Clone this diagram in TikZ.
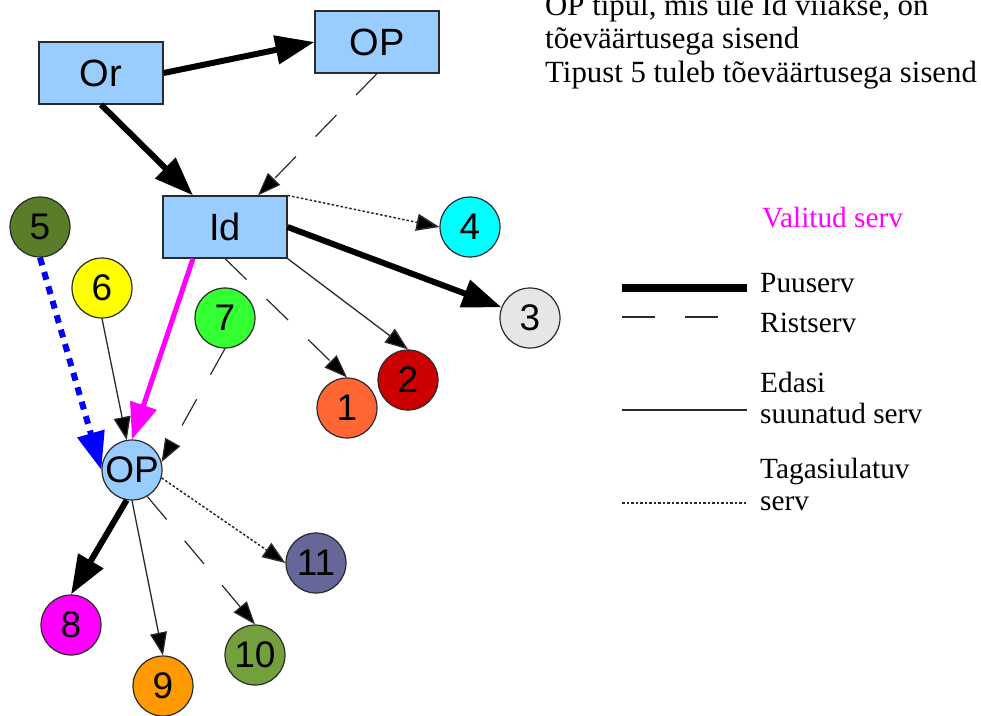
\documentclass[tikz,border=0pt]{standalone}
\usepackage{fontspec}
\setmainfont{Liberation Serif}
\newfontfamily\labelfont{Liberation Sans}
\usetikzlibrary{arrows.meta}

\definecolor{boxblue}{HTML}{99CCFF}
\definecolor{edgegray}{HTML}{2A2A2A}
\definecolor{cfive}{HTML}{5A7D2A}
\definecolor{csix}{HTML}{FFFF00}
\definecolor{cseven}{HTML}{33FF33}
\definecolor{cfour}{HTML}{00FFFF}
\definecolor{cthree}{HTML}{E6E6E6}
\definecolor{ctwo}{HTML}{CC0000}
\definecolor{cone}{HTML}{FF6633}
\definecolor{ceight}{HTML}{FF00FF}
\definecolor{cnine}{HTML}{FF9900}
\definecolor{cten}{HTML}{739F3D}
\definecolor{celeven}{HTML}{666699}

\tikzset{
  x=1pt, y=-1pt,
  vbox/.style={draw=edgegray, line width=1.2pt, fill=boxblue, minimum width=124pt,
    minimum height=62pt, inner sep=0pt, font=\labelfont\fontsize{38}{38}\selectfont},
  vcirc/.style={circle, draw=edgegray, line width=1.2pt, minimum size=60pt,
    inner sep=0pt, font=\labelfont\fontsize{37}{37}\selectfont},
  note/.style={anchor=base west, inner sep=0pt, font=\fontsize{29.3}{33}\selectfont},
  topnote/.style={anchor=base west, inner sep=0pt, font=\fontsize{30.8}{33}\selectfont},
  bighead/.style={-{Triangle[length=39pt,width=28pt]}},
  smallhead/.style={-{Triangle[length=23pt,width=17pt,fill=black]}},
  treeedge/.style={bighead, line width=6pt, black},
  crossedge/.style={smallhead, line width=1.2pt, edgegray, dash pattern=on 30pt off 28pt},
  forwardedge/.style={smallhead, line width=1.3pt, edgegray},
  backedge/.style={smallhead, line width=1.5pt, edgegray, dash pattern=on 2.5pt off 2pt},
  chosenedge/.style={-{Triangle[length=36pt,width=27pt]}, line width=5pt, ceight},
  valueedge/.style={-{Triangle[length=38pt,width=27pt]}, line width=6pt, blue,
    dash pattern=on 8pt off 7pt},
}

\begin{document}
\begin{tikzpicture}
\useasboundingbox (0,0) rectangle (981,715);

% vertices
\node[vbox] (Or)  at (101,73)  {Or};
\node[vbox] (OPt) at (377,42)  {OP};
\node[vbox] (Id)  at (225,227) {Id};

\node[vcirc, fill=cfive]   (n5)  at (40,227)  {5};
\node[vcirc, fill=csix]    (n6)  at (102,288) {6};
\node[vcirc, fill=cseven]  (n7)  at (225,318) {7};
\node[vcirc, fill=cfour]   (n4)  at (470,227) {4};
\node[vcirc, fill=cthree]  (n3)  at (530,318) {3};
\node[vcirc, fill=ctwo]    (n2)  at (408,380) {2};
\node[vcirc, fill=cone]    (n1)  at (347,408) {1};
\node[vcirc, fill=boxblue] (OPc) at (132,470) {OP};
\node[vcirc, fill=ceight]  (n8)  at (71,625)  {8};
\node[vcirc, fill=cnine]   (n9)  at (163,686) {9};
\node[vcirc, fill=cten]    (n10) at (255,655) {10};
\node[vcirc, fill=celeven] (n11) at (316,563) {11};

% edges
\draw[treeedge]    (Or.east) -- (OPt.west);
\draw[treeedge]    (Or.south) -- ([xshift=-32pt]Id.north);
\draw[crossedge]   (OPt.south) -- ([xshift=33pt]Id.north);
\draw[backedge]    (Id.north east) -- (n4.west);
\draw[treeedge]    (Id.east) -- (n3);
\draw[forwardedge] (Id.south east) -- (n2.north);
\draw[crossedge]   (Id.south) -- (n1.north);
\draw[chosenedge]  ([xshift=-32pt]Id.south) -- (OPc.north);
\draw[valueedge]   (n5.south) -- (OPc.west);
\draw[forwardedge] (n6.south) -- (OPc.100);
\draw[crossedge]   (n7.south) -- (OPc.15);
\draw[treeedge]    (OPc.-100) -- (n8.north);
\draw[forwardedge] (OPc.south) -- (n9.north);
\draw[crossedge]   (OPc.-60) -- (n10.north);
\draw[backedge]    (OPc.-15) -- (n11.west);

% explanation
\node[topnote] (t1) at (545,15) {OP tipul, mis üle Id viiakse, on};
\node[topnote] (t2) at (545,48) {tõeväärtusega sisend};
\node[topnote] (t3) at (545,82) {Tipust 5 tuleb tõeväärtusega sisend};

% legend
\node[note, text=ceight] (lv) at (762,227) {Valitud serv};

\coordinate (a1) at (622,288); \coordinate (b1) at (747,288);
\draw[line width=8pt, black] (a1) -- (b1);
\node[note] (lp) at (760,292) {Puuserv};

\coordinate (a2) at (622,317); \coordinate (b2) at (747,317);
\draw[line width=1.2pt, edgegray, dash pattern=on 33pt off 30pt] (a2) -- (b2);
\node[note] (lr) at (760,332) {Ristserv};

\coordinate (a3) at (622,410); \coordinate (b3) at (747,410);
\draw[line width=1.5pt, edgegray] (a3) -- (b3);
\node[note] (le1) at (760,392) {Edasi};
\node[note] (le2) at (760,423) {suunatud serv};

\coordinate (a4) at (622,503); \coordinate (b4) at (747,503);
\draw[line width=1.5pt, edgegray, dash pattern=on 2.5pt off 2pt] (a4) -- (b4);
\node[note] (lt1) at (760,478) {Tagasiulatuv};
\node[note] (lt2) at (760,510) {serv};
\end{tikzpicture}
\end{document}
